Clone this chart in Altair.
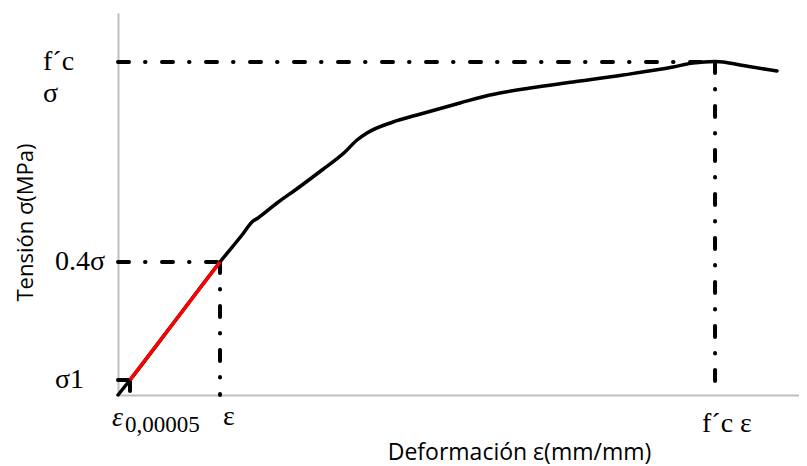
import altair as alt
import pandas as pd

# Stress-strain curve (arbitrary units: strain 0-100, stress 0-100)
strain = [0, 1.76, 8.37, 14.98, 18.21, 19.68, 20.56, 23.35, 26.43, 29.96, 33.33,
          35.10, 36.56, 40.38, 43.91, 50.22, 54.63, 60.50, 66.81, 74.16, 81.50,
          84.43, 87.67, 88.84, 91.34, 96.77]
stress = [0, 3.93, 19.37, 34.82, 41.88, 45.29, 46.34, 50.26, 54.19, 58.90, 63.61,
          66.75, 68.59, 71.47, 73.30, 76.44, 78.53, 80.37, 81.94, 83.77, 85.86,
          86.9, 87.3, 87.2, 86.39, 84.82]

# Elastic (secant) segment
elastic_strain = [1.76, 14.98]
elastic_stress = [3.93, 34.82]

# Reference levels: sigma1, 0.4 sigma, f'c
guide_strain = [1.76, 14.98, 87.67]
guide_stress = [3.93, 34.82, 87.2]

# Labels
y_lab_fc = ["f´c"]
y_lab_sig = ["σ"]
y_lab_fc_val = [87.2]
y_lab_b = ["0.4σ", "σ1"]
y_lab_b_val = [34.82, 3.93]
x_lab_eps = ["ε"]
x_lab_eps_val = [14.98]
x_lab_fc = ["f´c ε"]
x_lab_fc_val = [87.67]
x_lab_e0 = ["ε"]
x_lab_e0_sub = ["0,00005"]
x_lab_e0_val = [1.76]

curve = pd.DataFrame({"strain": strain, "stress": stress, "order": range(len(strain))})
elastic = pd.DataFrame({"strain": elastic_strain, "stress": elastic_stress})
guides = pd.DataFrame({"eps": guide_strain, "sig": guide_stress, "zero": [0] * 3})

xs = alt.Scale(domain=[0, 100], nice=False, zero=False)
ys = alt.Scale(domain=[0, 100], nice=False, zero=False)

xax = alt.Axis(title="Deformación ε(mm/mm)", grid=False, ticks=False, labels=False,
               domainColor="#BFBFBF", domainWidth=2,
               titleFont="Open Sans", titleFontSize=23, titleFontWeight="normal",
               titleColor="#000000", titleX=401, titleY=57,
               titleAlign="center", titleBaseline="middle")
yax = alt.Axis(title="Tensión σ(MPa)", grid=False, ticks=False, labels=False,
               domainColor="#BFBFBF", domainWidth=2,
               titleFont="Open Sans", titleFontSize=22, titleFontWeight="normal",
               titleColor="#000000", titleX=-93, titleY=209, titleAngle=270,
               titleAlign="center", titleBaseline="middle")

dash = [11, 16, 0.5, 16.5]

hrules = alt.Chart(guides).mark_rule(color="black", strokeWidth=4, strokeDash=dash,
                                     strokeCap="round").encode(
    x=alt.X("zero:Q", scale=xs, axis=xax),
    x2="eps:Q",
    y=alt.Y("sig:Q", scale=ys, axis=yax),
)
vrules = alt.Chart(guides).mark_rule(color="black", strokeWidth=4, strokeDash=dash,
                                     strokeCap="round").encode(
    x=alt.X("eps:Q", scale=xs, axis=xax),
    y=alt.Y("sig:Q", scale=ys, axis=yax),
    y2="zero:Q",
)

line = alt.Chart(curve).mark_line(color="black", strokeWidth=3.5, strokeCap="round",
                                  strokeJoin="round", interpolate="monotone").encode(
    x=alt.X("strain:Q", scale=xs, axis=xax),
    y=alt.Y("stress:Q", scale=ys, axis=yax),
    order="order:Q",
)
red = alt.Chart(elastic).mark_line(color="#FF0000", strokeWidth=3.5).encode(
    x=alt.X("strain:Q", scale=xs, axis=xax),
    y=alt.Y("stress:Q", scale=ys, axis=yax),
)

serif = "Liberation Serif"
FS = 28

ylab_fc = alt.Chart(pd.DataFrame({"t": y_lab_fc, "v": y_lab_fc_val})).mark_text(
    font=serif, fontSize=FS, align="left", baseline="middle", color="black").encode(
    x=alt.value(-75), y=alt.Y("v:Q", scale=ys, axis=yax), text="t:N")
ylab_sig = alt.Chart(pd.DataFrame({"t": y_lab_sig, "v": y_lab_fc_val})).mark_text(
    font=serif, fontSize=FS, align="left", baseline="middle", color="black", dy=32).encode(
    x=alt.value(-75), y=alt.Y("v:Q", scale=ys, axis=yax), text="t:N")
ylab_b = alt.Chart(pd.DataFrame({"t": y_lab_b, "v": y_lab_b_val})).mark_text(
    font=serif, fontSize=FS, align="left", baseline="middle", color="black").encode(
    x=alt.value(-63), y=alt.Y("v:Q", scale=ys, axis=yax), text="t:N")

xlab_eps = alt.Chart(pd.DataFrame({"t": x_lab_eps, "v": x_lab_eps_val})).mark_text(
    font=serif, fontSize=FS, align="left", baseline="middle", color="black", dx=3).encode(
    x=alt.X("v:Q", scale=xs, axis=xax), y=alt.value(404), text="t:N")
xlab_fc = alt.Chart(pd.DataFrame({"t": x_lab_fc, "v": x_lab_fc_val})).mark_text(
    font=serif, fontSize=FS, align="left", baseline="middle", color="black", dx=-13).encode(
    x=alt.X("v:Q", scale=xs, axis=xax), y=alt.value(411), text="t:N")
xlab_e0 = alt.Chart(pd.DataFrame({"t": x_lab_e0, "v": x_lab_e0_val})).mark_text(
    font=serif, fontSize=FS, fontStyle="italic", align="left", baseline="middle",
    color="black", dx=-18).encode(
    x=alt.X("v:Q", scale=xs, axis=xax), y=alt.value(405), text="t:N")
xlab_e0s = alt.Chart(pd.DataFrame({"t": x_lab_e0_sub, "v": x_lab_e0_val})).mark_text(
    font=serif, fontSize=23, align="left", baseline="middle", color="black", dx=-5).encode(
    x=alt.X("v:Q", scale=xs, axis=xax), y=alt.value(412), text="t:N")

chart = alt.layer(
    line, hrules, vrules, red, ylab_fc, ylab_sig, ylab_b, xlab_eps, xlab_fc, xlab_e0, xlab_e0s
).properties(
    width=681, height=382,
    padding={"left": 110, "top": 5, "right": 0, "bottom": 70},
    autosize=alt.AutoSizeParams(type="none"),
    background="white",
).configure_view(stroke=None)

chart.save("out.html", embed_options={"renderer": "svg", "actions": False})
